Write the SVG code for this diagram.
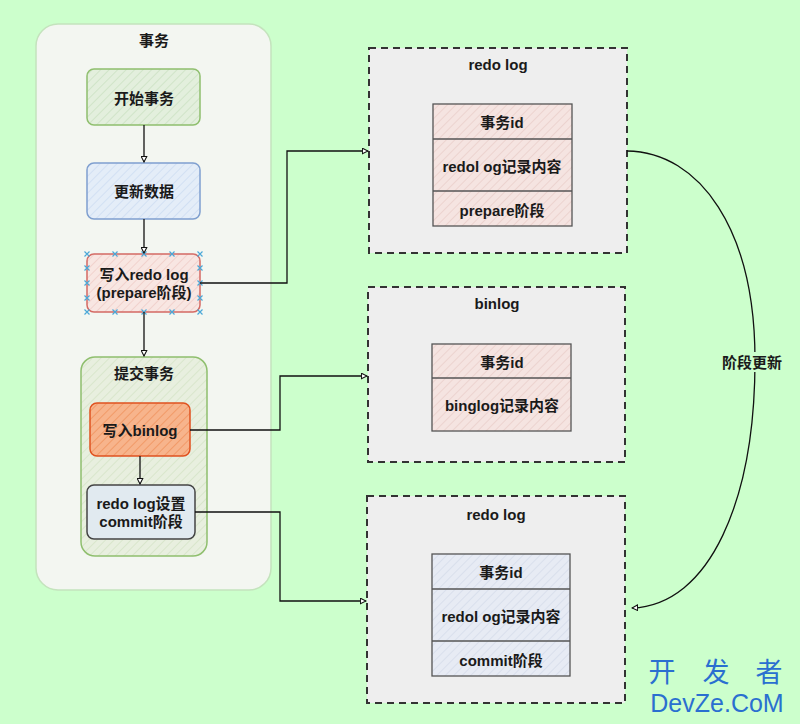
<svg xmlns="http://www.w3.org/2000/svg" width="800" height="724" viewBox="0 0 800 724">
<style>
text{font-family:"Liberation Sans","Noto Sans CJK SC",sans-serif;font-weight:bold;font-size:15px;fill:#1a1a1a;text-anchor:middle;dominant-baseline:central}
.conn{fill:none;stroke:#111;stroke-width:1.3}
.dash{fill:#eeeeee;stroke:#333;stroke-width:2;stroke-dasharray:7 5}
.cell{stroke:#555;stroke-width:1.3}
.hx{stroke:#4aa8d8;stroke-width:1.2}
</style>
<defs>
<pattern id="hG" width="6" height="6" patternUnits="userSpaceOnUse" patternTransform="rotate(45)"><rect width="6" height="6" fill="#e3efdd"/><line x1="0" y1="0" x2="0" y2="6" stroke="#d0e4c8" stroke-width="2"/></pattern>
<pattern id="hB" width="6" height="6" patternUnits="userSpaceOnUse" patternTransform="rotate(45)"><rect width="6" height="6" fill="#e4edf8"/><line x1="0" y1="0" x2="0" y2="6" stroke="#d2e0f3" stroke-width="2"/></pattern>
<pattern id="hR" width="6" height="6" patternUnits="userSpaceOnUse" patternTransform="rotate(45)"><rect width="6" height="6" fill="#f8e6e2"/><line x1="0" y1="0" x2="0" y2="6" stroke="#f1d2cd" stroke-width="2"/></pattern>
<pattern id="hO" width="6" height="6" patternUnits="userSpaceOnUse" patternTransform="rotate(45)"><rect width="6" height="6" fill="#f7b48c"/><line x1="0" y1="0" x2="0" y2="6" stroke="#f19a68" stroke-width="2"/></pattern>
<pattern id="hC" width="6" height="6" patternUnits="userSpaceOnUse" patternTransform="rotate(45)"><rect width="6" height="6" fill="#e8efdf"/><line x1="0" y1="0" x2="0" y2="6" stroke="#d9e6cc" stroke-width="2"/></pattern>
<pattern id="hP" width="6" height="6" patternUnits="userSpaceOnUse" patternTransform="rotate(45)"><rect width="6" height="6" fill="#f5e4e1"/><line x1="0" y1="0" x2="0" y2="6" stroke="#ecd3cf" stroke-width="2"/></pattern>
<pattern id="hL" width="6" height="6" patternUnits="userSpaceOnUse" patternTransform="rotate(45)"><rect width="6" height="6" fill="#e7ebf4"/><line x1="0" y1="0" x2="0" y2="6" stroke="#d9dfec" stroke-width="2"/></pattern>
<marker id="arr" viewBox="0 0 10 10" refX="9" refY="5" markerWidth="7" markerHeight="7" orient="auto" markerUnits="userSpaceOnUse"><path d="M1,1 L9,5 L1,9 Z" fill="#ffffff" stroke="#111" stroke-width="1.5"/></marker>
<path id="xm" d="M-2.5,-2.5 L2.5,2.5 M-2.5,2.5 L2.5,-2.5"/>
</defs>
<rect width="800" height="724" fill="#ccffcc"/>

<g id="tx">
<rect x="36" y="24" width="235" height="566" rx="22" fill="#f3f6f1" stroke="#c4e3bd" stroke-width="1.5"/>
<text x="154" y="40">事务</text>
</g>

<g id="start">
<rect x="87" y="69" width="113" height="56" rx="7" fill="url(#hG)" stroke="#8fbf6e" stroke-width="1.5"/>
<text x="144" y="98">开始事务</text>
</g>
<g id="update">
<rect x="87" y="163" width="113" height="56" rx="7" fill="url(#hB)" stroke="#7f9fcf" stroke-width="1.5"/>
<text x="144" y="191">更新数据</text>
</g>
<g id="writeredo">
<rect x="87" y="254" width="113" height="58" rx="7" fill="url(#hR)" stroke="#d46a64" stroke-width="1.5"/>
<text x="144" y="274">写入redo log</text>
<text x="144" y="292">(prepare阶段)</text>
<g class="hx">
<use href="#xm" x="87" y="254"/><use href="#xm" x="115" y="254"/><use href="#xm" x="144" y="254"/><use href="#xm" x="172" y="254"/><use href="#xm" x="200" y="254"/>
<use href="#xm" x="87" y="312"/><use href="#xm" x="115" y="312"/><use href="#xm" x="144" y="312"/><use href="#xm" x="172" y="312"/><use href="#xm" x="200" y="312"/>
<use href="#xm" x="87" y="268"/><use href="#xm" x="87" y="283"/><use href="#xm" x="87" y="298"/>
<use href="#xm" x="200" y="268"/><use href="#xm" x="200" y="283"/><use href="#xm" x="200" y="298"/>
</g>
</g>

<g id="commit">
<rect x="81" y="357" width="126" height="199" rx="14" fill="url(#hC)" stroke="#8fbf6e" stroke-width="1.5"/>
<text x="144" y="373">提交事务</text>
</g>
<g id="writebin">
<rect x="90" y="403" width="100" height="53" rx="7" fill="url(#hO)" stroke="#e0521f" stroke-width="1.5"/>
<text x="140" y="430">写入binlog</text>
</g>
<g id="setcommit">
<rect x="87" y="485" width="108" height="54" rx="7" fill="#e1eaf0" stroke="#444" stroke-width="1.5"/>
<text x="141" y="503">redo log设置</text>
<text x="141" y="521">commit阶段</text>
</g>

<g id="redo1">
<rect class="dash" x="369" y="48" width="258" height="205"/>
<text x="498" y="64">redo log</text>
<rect class="cell" x="433" y="104" width="139" height="122" fill="url(#hP)"/>
<line class="cell" x1="433" y1="139" x2="572" y2="139"/>
<line class="cell" x1="433" y1="191" x2="572" y2="191"/>
<text x="502" y="122">事务id</text>
<text x="502" y="166">redol og记录内容</text>
<text x="502" y="210">prepare阶段</text>
</g>

<g id="binlog">
<rect class="dash" x="368" y="287" width="257" height="175"/>
<text x="497" y="303">binlog</text>
<rect class="cell" x="432" y="344" width="139" height="87" fill="url(#hP)"/>
<line class="cell" x1="432" y1="378" x2="571" y2="378"/>
<text x="502" y="362">事务id</text>
<text x="502" y="405">binglog记录内容</text>
</g>

<g id="redo2">
<rect class="dash" x="367" y="496" width="258" height="207"/>
<text x="496" y="514">redo log</text>
<rect class="cell" x="432" y="554" width="138" height="122" fill="url(#hL)"/>
<line class="cell" x1="432" y1="589" x2="570" y2="589"/>
<line class="cell" x1="432" y1="641" x2="570" y2="641"/>
<text x="501" y="572">事务id</text>
<text x="501" y="616">redol og记录内容</text>
<text x="501" y="660">commit阶段</text>
</g>

<g id="connectors">
<path class="conn" d="M144,125 L144,162" marker-end="url(#arr)"/>
<path class="conn" d="M144,219 L144,253" marker-end="url(#arr)"/>
<path class="conn" d="M144,312 L144,356" marker-end="url(#arr)"/>
<path class="conn" d="M140,456 L140,484" marker-end="url(#arr)"/>
<path class="conn" d="M200,283 L287,283 L287,151 L368,151" marker-end="url(#arr)"/>
<path class="conn" d="M190,430 L280,430 L280,376 L367,376" marker-end="url(#arr)"/>
<path class="conn" d="M195,512 L280,512 L280,601 L366,601" marker-end="url(#arr)"/>
<path class="conn" d="M627,151 C700,152 755,230 755,360 C755,500 710,605 632,608" marker-end="url(#arr)"/>
<rect x="720" y="352" width="64" height="20" fill="#ccffcc"/>
<text x="752" y="362">阶段更新</text>
</g>

<g id="watermark">
<text y="670" style="font-family:'Noto Sans CJK SC',sans-serif;font-weight:normal;font-size:27px;fill:#2a6fd0"><tspan x="662">开</tspan><tspan x="716">发</tspan><tspan x="769">者</tspan></text>
<text x="717" y="703" style="font-family:'Liberation Sans',sans-serif;font-weight:normal;font-size:25px;fill:#2a6fd0">DevZe.CoM</text>
</g>
</svg>
